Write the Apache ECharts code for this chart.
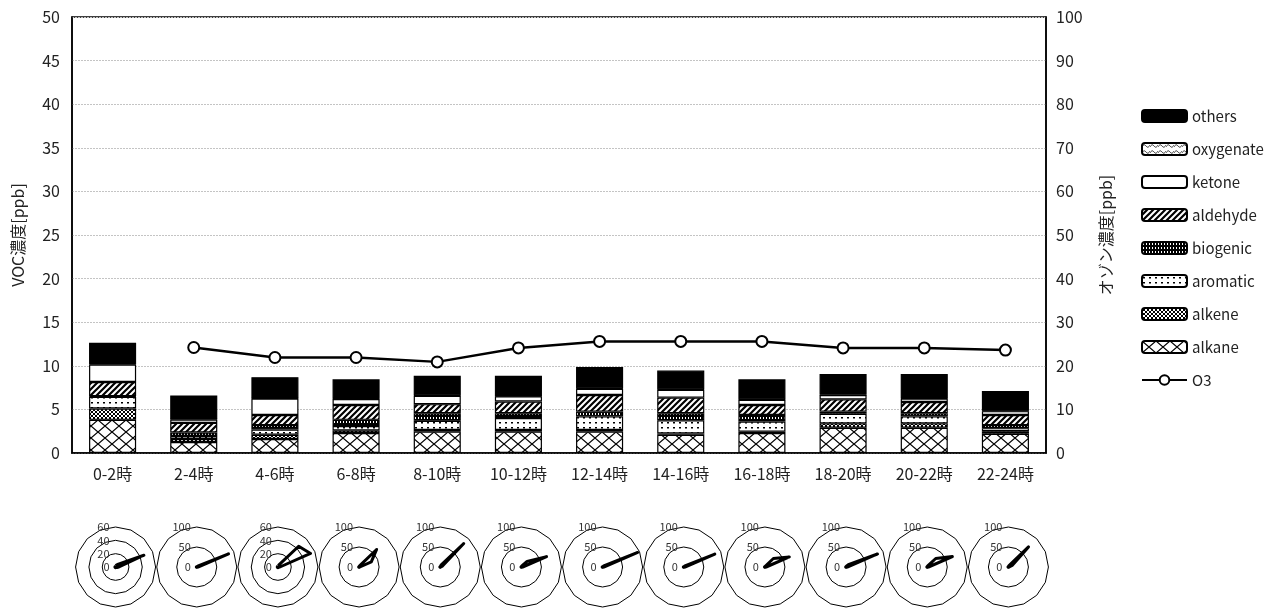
<!DOCTYPE html>
<html>
<head>
<meta charset="utf-8">
<script src="https://cdn.jsdelivr.net/npm/echarts@6/dist/echarts.min.js"></script>
<style>
  html, body { margin: 0; padding: 0; background: #fff; }
  #chart { width: 1284px; height: 612px; }
</style>
</head>
<body>
<div id="chart"></div>
<script>
// Time-of-day periods
const categories = ['0-2時', '2-4時', '4-6時', '6-8時', '8-10時', '10-12時',
  '12-14時', '14-16時', '16-18時', '18-20時', '20-22時', '22-24時'];

// VOC components [ppb]
const alkane    = [3.8, 1.25, 1.6, 2.3, 2.45, 2.45, 2.45, 2.1, 2.3, 2.9, 2.9, 2.2];
const alkene    = [1.3, 0.35, 0.5, 0.3, 0.2, 0.2, 0.2, 0.15, 0.15, 0.5, 0.5, 0.3];
const aromatic  = [1.35, 0.35, 0.6, 0.5, 1.05, 1.35, 1.55, 1.5, 1.15, 1.1, 0.8, 0.35];
const biogenic  = [0.05, 0.4, 0.5, 0.7, 0.85, 0.55, 0.55, 0.8, 0.75, 0.25, 0.35, 0.35];
const aldehyde  = [1.65, 1.1, 1.15, 1.7, 1.05, 1.35, 1.9, 1.8, 1.15, 1.4, 1.3, 1.15];
const ketone    = [2.0, 0.4, 1.9, 0.7, 0.95, 0.6, 0.7, 0.9, 0.6, 0.5, 0.4, 0.45];
const oxygenate = [0.05, 0.05, 0.05, 0.05, 0.05, 0.05, 0.05, 0.05, 0.05, 0.05, 0.05, 0.05];
const others    = [2.45, 2.7, 2.4, 2.2, 2.25, 2.3, 2.45, 2.15, 2.3, 2.35, 2.75, 2.25];

// Ozone [ppb]
const o3 = [null, 24.2, 21.9, 21.9, 20.9, 24.1, 25.6, 25.6, 25.6, 24.1, 24.1, 23.6];

// Axis ticks
const vocTicks = { min: 0, max: 50, interval: 5 };
const o3Ticks = { min: 0, max: 100, interval: 10 };

// Wind direction frequency per period, compass order from N clockwise
const windDirs = ['N', 'NNE', 'NE', 'ENE', 'E', 'ESE', 'SE', 'SSE',
  'S', 'SSW', 'SW', 'WSW', 'W', 'WNW', 'NW', 'NNW'];
const rose00 = [2, 3, 6, 46, 5, 2, 1, 1, 1, 1, 1, 1, 1, 1, 1, 1];
const rose02 = [1, 1, 3, 86, 3, 1, 1, 1, 1, 1, 1, 1, 1, 1, 1, 1];
const rose04 = [2, 3, 44, 53, 3, 1, 1, 1, 1, 1, 1, 1, 1, 1, 1, 1];
const rose06 = [1, 3, 62, 33, 2, 1, 1, 1, 1, 1, 1, 1, 1, 1, 1, 1];
const rose08 = [1, 5, 83, 6, 1, 1, 1, 1, 1, 1, 1, 1, 1, 1, 1, 1];
const rose10 = [1, 3, 20, 68, 3, 1, 1, 1, 1, 1, 1, 1, 1, 1, 1, 1];
const rose12 = [1, 1, 4, 95, 3, 1, 1, 1, 1, 1, 1, 1, 1, 1, 1, 1];
const rose14 = [1, 1, 4, 84, 3, 1, 1, 1, 1, 1, 1, 1, 1, 1, 1, 1];
const rose16 = [1, 2, 30, 66, 3, 1, 1, 1, 1, 1, 1, 1, 1, 1, 1, 1];
const rose18 = [1, 2, 8, 85, 3, 1, 1, 1, 1, 1, 1, 1, 1, 1, 1, 1];
const rose20 = [1, 3, 30, 68, 3, 1, 1, 1, 1, 1, 1, 1, 1, 1, 1, 1];
const rose22 = [1, 4, 71, 10, 2, 1, 1, 1, 1, 1, 1, 1, 1, 1, 1, 1];
const roseMax = [60, 100, 60, 100, 100, 100, 100, 100, 100, 100, 100, 100];
const roses = [rose00, rose02, rose04, rose06, rose08, rose10,
  rose12, rose14, rose16, rose18, rose20, rose22];

// ---- fill patterns ----
function tile(w, h, bg, draw) {
  const c = document.createElement('canvas');
  c.width = w; c.height = h;
  const ctx = c.getContext('2d');
  ctx.fillStyle = bg;
  ctx.fillRect(0, 0, w, h);
  draw(ctx, w, h);
  return { image: c, repeat: 'repeat' };
}
const patAlkane = tile(14, 12, '#fff', (ctx, w, h) => {
  ctx.strokeStyle = '#000'; ctx.lineWidth = 1.2;
  ctx.beginPath();
  ctx.moveTo(0, 0); ctx.lineTo(w, h);
  ctx.moveTo(w, 0); ctx.lineTo(0, h);
  ctx.stroke();
});
const patAlkene = tile(4, 4, '#fff', (ctx, w, h) => {
  ctx.strokeStyle = '#000'; ctx.lineWidth = 1;
  ctx.beginPath();
  ctx.moveTo(0, 0); ctx.lineTo(w, h);
  ctx.moveTo(w, 0); ctx.lineTo(0, h);
  ctx.stroke();
});
const patAromatic = tile(6, 5, '#fff', (ctx) => {
  ctx.fillStyle = '#000';
  ctx.fillRect(1, 2, 2, 1.5);
});
const patBiogenic = tile(3, 4, '#000', (ctx) => {
  ctx.fillStyle = '#fff';
  ctx.fillRect(1, 1, 1, 2);
});
const patAldehyde = tile(6, 6, '#fff', (ctx, w, h) => {
  ctx.strokeStyle = '#000'; ctx.lineWidth = 2.2;
  ctx.beginPath();
  ctx.moveTo(-w, h); ctx.lineTo(w, -h);
  ctx.moveTo(0, h); ctx.lineTo(w, 0);
  ctx.moveTo(0, 2 * h); ctx.lineTo(2 * w, 0);
  ctx.stroke();
});
const patOxygenate = tile(8, 6, '#fff', (ctx) => {
  ctx.strokeStyle = '#555'; ctx.lineWidth = 1;
  ctx.beginPath();
  ctx.moveTo(0, 4); ctx.quadraticCurveTo(2, 0, 4, 3); ctx.quadraticCurveTo(6, 6, 8, 2);
  ctx.stroke();
});

const FONT = '"Noto Sans CJK JP", "Noto Sans", sans-serif';

// plot rectangle
const GRID = { left: 72, right: 238, top: 17, bottom: 159 };
const plotW = 1284 - GRID.left - GRID.right;

function barSeries(name, data, color) {
  return {
    name, type: 'bar', stack: 'voc', data,
    barWidth: '58%',
    itemStyle: { color, borderColor: '#000', borderWidth: 1.2 },
    emphasis: { disabled: true }
  };
}

// compass order (clockwise) -> radar indicator order (counter-clockwise from N)
function toRadarOrder(arr) {
  return [arr[0]].concat(arr.slice(1).reverse());
}
const radarDirs = toRadarOrder(windDirs);

const radars = roses.map((r, i) => {
  const max = roseMax[i];
  return {
    center: [GRID.left + (i + 0.5) * plotW / 12 + 3, 567],
    radius: 40,
    shape: 'polygon',
    splitNumber: max === 60 ? 3 : 2,
    startAngle: 90,
    axisName: { show: false },
    axisLine: { show: false },
    axisTick: { show: false },
    splitArea: { show: false },
    splitLine: { lineStyle: { color: '#000', width: 1 } },
    axisLabel: { show: false },
    indicator: radarDirs.map((d, k) => ({
      name: d, min: 0, max,
      axisLabel: k === 0
        ? { show: true, fontSize: 11, color: '#333', fontFamily: FONT, margin: 6 }
        : { show: false }
    }))
  };
});

const radarSeries = roses.map((r, i) => ({
  type: 'radar',
  radarIndex: i,
  symbol: 'none',
  silent: true,
  lineStyle: { color: '#000', width: 3, join: 'round' },
  data: [{ value: toRadarOrder(r) }]
}));

const chart = echarts.init(document.getElementById('chart'), null, { renderer: 'canvas' });
chart.setOption({
  animation: false,
  backgroundColor: '#fff',
  textStyle: { fontFamily: FONT },
  grid: Object.assign({ show: true, borderColor: '#000', borderWidth: 1.5, backgroundColor: 'transparent' }, GRID),
  legend: {
    orient: 'vertical',
    left: 1136, top: 103,
    itemWidth: 45, itemHeight: 12, itemGap: 17,
    textStyle: { fontSize: 15, color: '#222', lineHeight: 16, fontFamily: FONT },
    data: ['others', 'oxygenate', 'ketone', 'aldehyde', 'biogenic', 'aromatic', 'alkene', 'alkane', 'O3']
  },
  xAxis: {
    type: 'category', data: categories,
    axisLine: { lineStyle: { color: '#000', width: 1.5 } },
    axisTick: { show: false },
    axisLabel: { fontSize: 16, color: '#222', margin: 13 }
  },
  yAxis: [
    Object.assign({
      type: 'value',
      name: 'VOC濃度[ppb]', nameLocation: 'middle', nameGap: 46, nameRotate: 90,
      nameTextStyle: { fontSize: 16, color: '#222' },
      axisLine: { show: true, lineStyle: { color: '#000', width: 1.5 } },
      axisTick: { show: false },
      axisLabel: { fontSize: 16, color: '#222', margin: 12 },
      splitLine: { lineStyle: { color: '#c4c4c4', type: [2, 1], width: 1 } }
    }, vocTicks),
    Object.assign({
      type: 'value', position: 'right',
      name: 'オゾン濃度[ppb]', nameLocation: 'middle', nameGap: 52, nameRotate: 90,
      nameTextStyle: { fontSize: 16, color: '#222' },
      axisLine: { show: true, lineStyle: { color: '#000', width: 1.5 } },
      axisTick: { show: false },
      axisLabel: { fontSize: 16, color: '#222', margin: 10 },
      splitLine: { show: false }
    }, o3Ticks)
  ],
  radar: radars,
  series: [
    barSeries('alkane', alkane, patAlkane),
    barSeries('alkene', alkene, patAlkene),
    barSeries('aromatic', aromatic, patAromatic),
    barSeries('biogenic', biogenic, patBiogenic),
    barSeries('aldehyde', aldehyde, patAldehyde),
    barSeries('ketone', ketone, '#fff'),
    barSeries('oxygenate', oxygenate, patOxygenate),
    barSeries('others', others, '#000'),
    {
      name: 'O3', type: 'line', yAxisIndex: 1, data: o3,
      symbol: 'circle', symbolSize: 11,
      lineStyle: { color: '#000', width: 2.5 },
      itemStyle: { color: '#fff', borderColor: '#000', borderWidth: 2 },
      z: 5
    }
  ].concat(radarSeries)
});
</script>
</body>
</html>
